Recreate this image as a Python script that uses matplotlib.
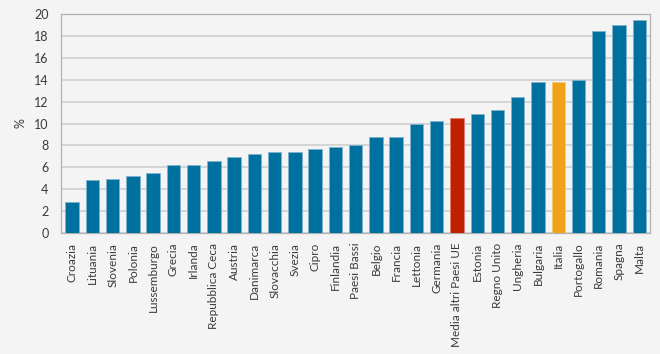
import matplotlib
matplotlib.use("Agg")
import matplotlib.pyplot as plt

plt.rcParams["font.family"] = ["Lato", "DejaVu Sans"]

categories = ["Croazia", "Lituania", "Slovenia", "Polonia", "Lussemburgo", "Grecia", "Irlanda",
              "Repubblica Ceca", "Austria", "Danimarca", "Slovacchia", "Svezia", "Cipro", "Finlandia",
              "Paesi Bassi", "Belgio", "Francia", "Lettonia", "Germania", "Media altri Paesi UE",
              "Estonia", "Regno Unito", "Ungheria", "Bulgaria", "Italia", "Portogallo", "Romania",
              "Spagna", "Malta"]
values = [2.8, 4.8, 4.9, 5.2, 5.5, 6.2, 6.25, 6.6, 6.9, 7.2, 7.4, 7.4, 7.7, 7.85, 8.0, 8.8, 8.8,
          10.0, 10.2, 10.5, 10.9, 11.2, 12.4, 13.8, 13.8, 14.0, 18.5, 19.0, 19.5]
yticks = [0, 2, 4, 6, 8, 10, 12, 14, 16, 18, 20]

BLUE = "#00709e"
RED = "#c02000"
ORANGE = "#f0a218"
colors = []
for c in categories:
    if c == "Italia":
        colors.append(ORANGE)
    elif c.startswith("Media"):
        colors.append(RED)
    else:
        colors.append(BLUE)
edge_map = {BLUE: "#7fb3cc", RED: "#e08070", ORANGE: "#f7c870"}

bg = "#f4f4f4"
fig = plt.figure(figsize=(6.6, 3.54), dpi=100, facecolor=bg)
ax = fig.add_axes([0.0924, 0.342, 0.893, 0.618], facecolor=bg)

x = list(range(len(categories)))
ax.bar(x, values, width=0.66, color=colors, edgecolor=[edge_map[c] for c in colors],
       linewidth=0.6, zorder=3)

ax.set_ylim(0, 20)
ax.set_xlim(-0.55, len(categories) - 0.45)
ax.set_yticks(yticks)
ax.set_yticklabels([str(t) for t in yticks], fontsize=9, color="#3a3a3a")
ax.set_xticks(x)
ax.set_xticklabels(categories, rotation=90, fontsize=8.5, color="#3a3a3a")
ax.tick_params(axis="x", length=0, pad=7)
ax.tick_params(axis="y", length=0, pad=9)
ax.grid(axis="y", color="#cccccc", linewidth=1.1, zorder=0)
for s in ax.spines.values():
    s.set_color("#b0b0b0")
    s.set_linewidth(0.9)
ax.set_ylabel("%", fontsize=9, color="#3a3a3a", labelpad=5)

fig.savefig("out.png", dpi=100, facecolor=bg)
